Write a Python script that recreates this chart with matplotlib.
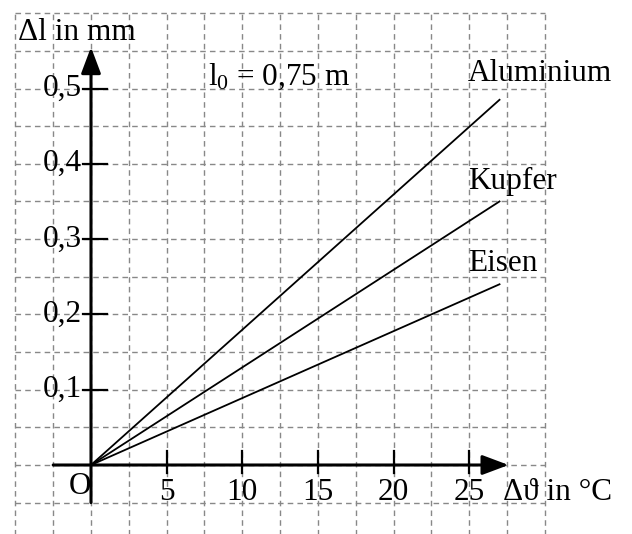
import matplotlib.pyplot as plt
import numpy as np

plt.rcParams["font.family"] = ["Liberation Serif", "DejaVu Serif"]
plt.rcParams["mathtext.fontset"] = "custom"
plt.rcParams["mathtext.rm"] = "Liberation Serif"
plt.rcParams["mathtext.it"] = "Liberation Serif"

# Daten
metalle = ["Aluminium", "Kupfer", "Eisen"]
dtheta_end = 27.0
dl_end = [0.485, 0.35, 0.24]
xticks = [5, 10, 15, 20, 25]
yticks = [0.1, 0.2, 0.3, 0.4, 0.5]
ytick_labels = ["0,1", "0,2", "0,3", "0,4", "0,5"]
label_y = [0.52, 0.376, 0.268]

fs = 22.5

fig = plt.figure(figsize=(6.32, 5.34), dpi=100)
ax = fig.add_axes([0, 0, 1, 1])
ax.set_xlim(-91 / 15.13, (632 - 91) / 15.13)
ax.set_ylim(-(534 - 465) / 753, 465 / 753)
ax.axis("off")

# Kästchenpapier
grid_kw = dict(color="#888888", lw=1.0, ls=(0, (4, 3)), zorder=0)
for gx in np.arange(-5, 30.01, 2.5):
    ax.plot([gx, gx], [-0.2, 0.6], **grid_kw)
for gy in np.arange(-0.05, 0.601, 0.05):
    ax.plot([-5, 30], [gy, gy], **grid_kw)

# Achsen mit Pfeil
arr = dict(arrowstyle="-|>,head_length=0.8,head_width=0.3", lw=2.2, color="k",
           mutation_scale=20, shrinkA=0, shrinkB=0)
ax.annotate("", xy=(27.6, 0), xytext=(-2.5, 0), arrowprops=arr, zorder=3)
ax.annotate("", xy=(0, 0.555), xytext=(0, -0.05), arrowprops=arr, zorder=3)

# Striche
for t in xticks:
    ax.plot([t, t], [-0.011, 0.019], c="k", lw=1.6)
    ax.text(t, -0.037, str(t), fontsize=fs, ha="center", va="center")
for t, lab in zip(yticks, ytick_labels):
    ax.plot([-0.55, 1.05], [t, t], c="k", lw=1.6)
    ax.text(-0.6, t, lab, fontsize=fs, ha="right", va="center")

# Geraden
for name, y_end, ly in zip(metalle, dl_end, label_y):
    ax.plot([0, dtheta_end], [0, y_end], c="k", lw=1.3, zorder=2)
    ax.text(24.9, ly, name, fontsize=fs, ha="left", va="center")

ax.text(-0.75, -0.028, "O", fontsize=fs, ha="center", va="center")
ax.text(-4.85, 0.574, "Δl in mm", fontsize=fs, ha="left", va="center")
ax.text(27.2, -0.036, "Δϑ in °C", fontsize=fs, ha="left", va="center")
ax.text(7.7, 0.516, r"l$_0$ = 0,75 m", fontsize=fs, ha="left", va="center")

plt.savefig("out.png", dpi=100)
